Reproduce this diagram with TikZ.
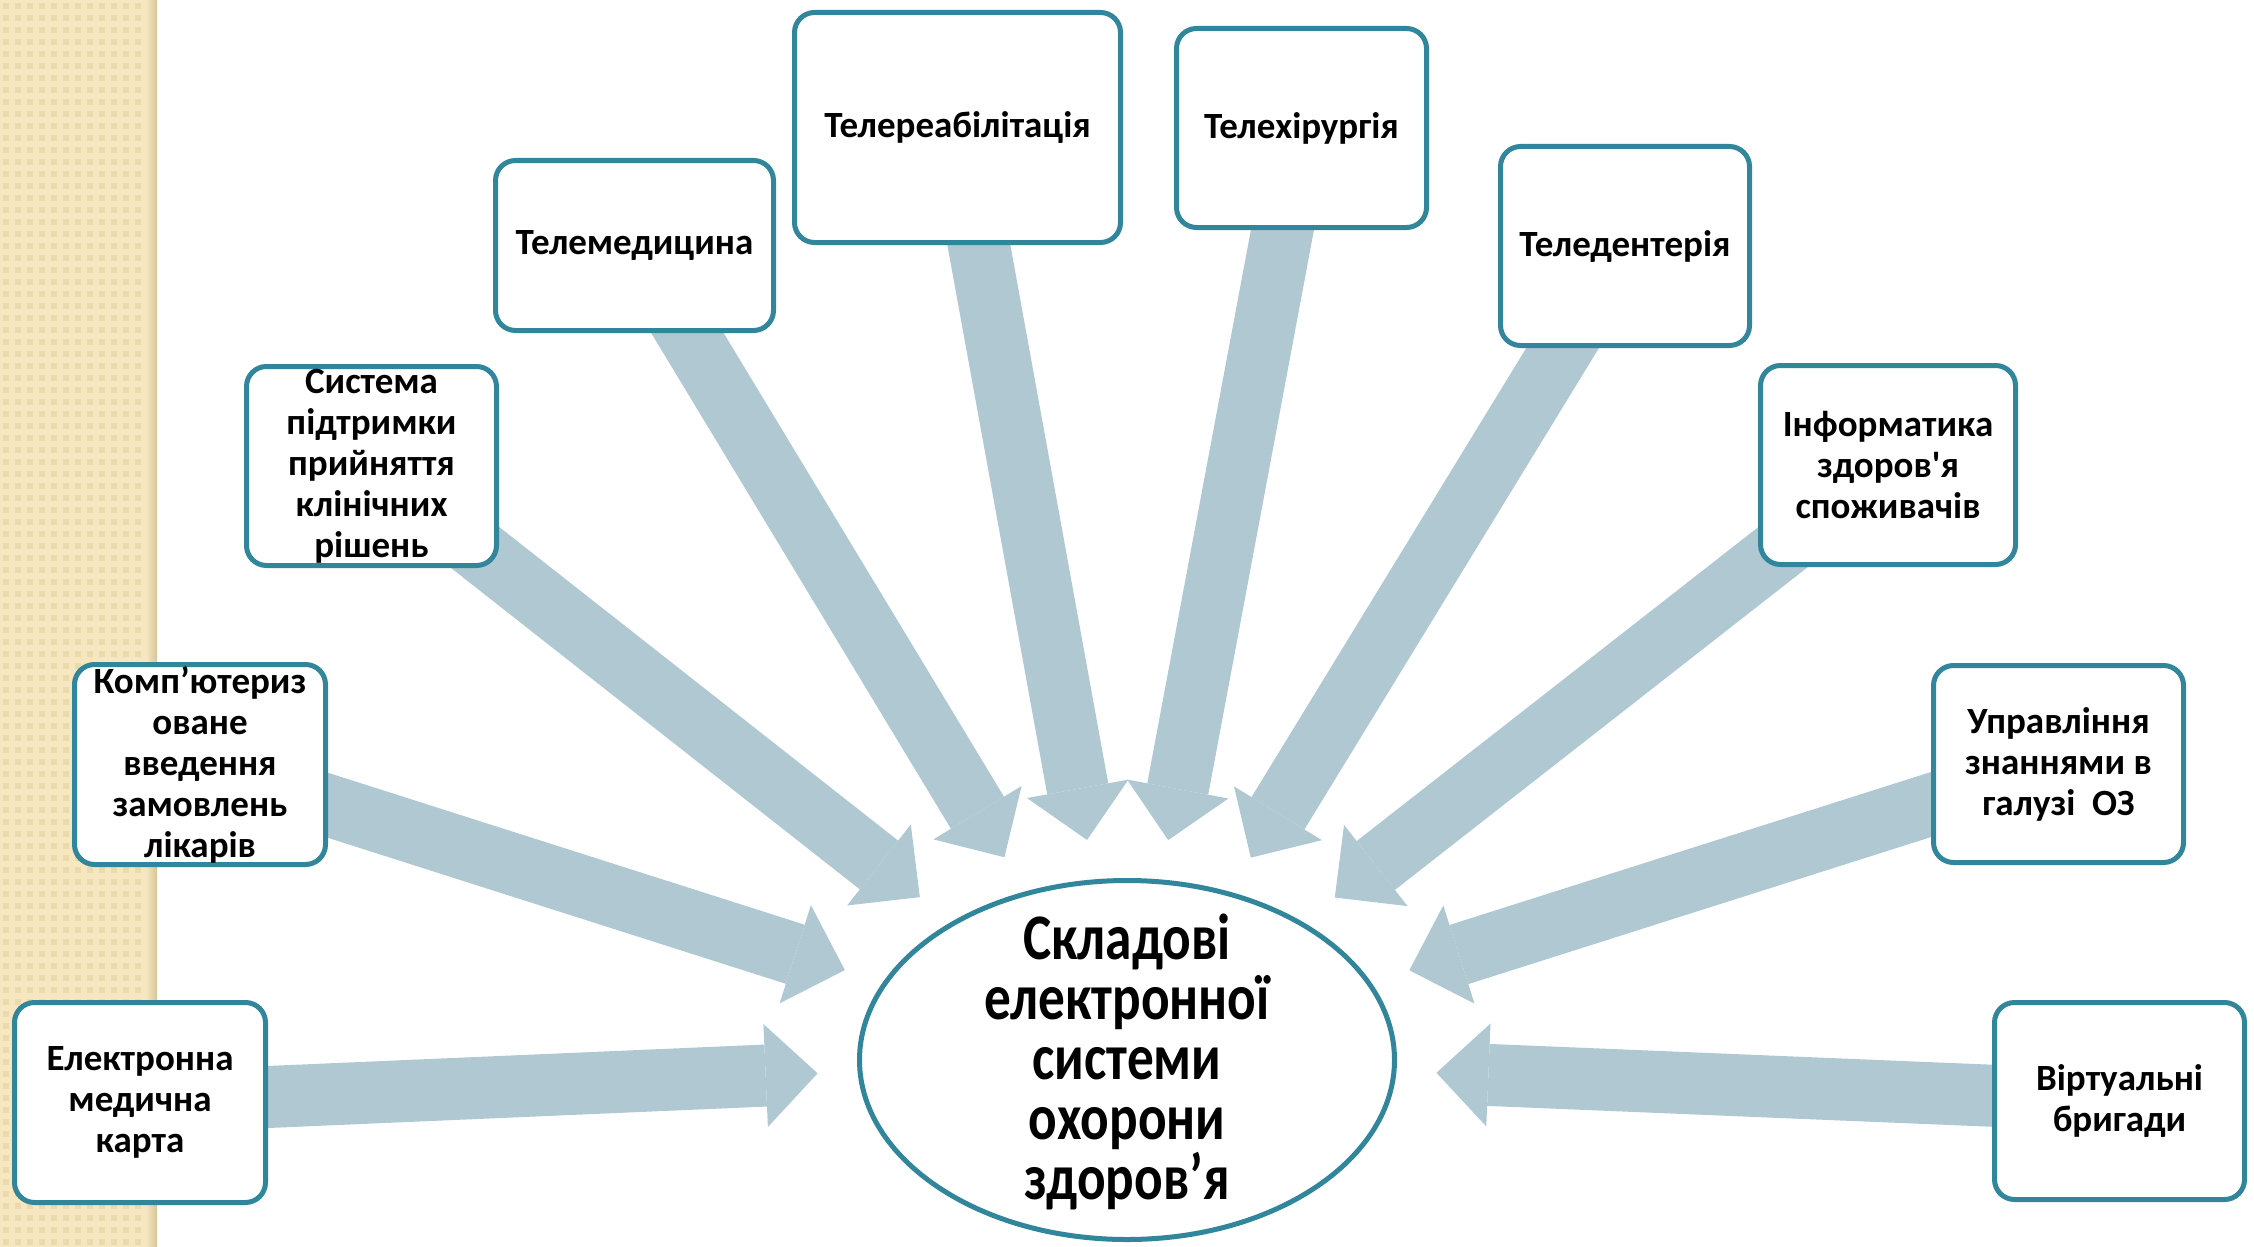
\documentclass[tikz,border=0pt]{standalone}
\usepackage{fontspec}
\newfontfamily\boxfont{Carlito}
\newfontfamily\ellfont{Carlito}[FakeStretch=0.82]
\usetikzlibrary{arrows.meta,shapes.geometric,backgrounds}
\definecolor{boxline}{RGB}{49,134,155}
\definecolor{arrowfill}{RGB}{175,200,210}
\definecolor{stripeA}{RGB}{246,231,193}
\definecolor{stripeB}{RGB}{235,218,172}
\definecolor{stripeC}{RGB}{214,196,150}
\begin{document}
\begin{tikzpicture}[x=0.5pt,y=-0.5pt,
  card/.style={draw=boxline,line width=2.5pt,rounded corners=10pt,fill=white,align=center,inner sep=0pt,
    font=\boxfont\bfseries\fontsize{18.5}{20.5}\selectfont},
  sz/.style 2 args={minimum width=#1*0.5pt-2.5pt,minimum height=#2*0.5pt-2.5pt},
  hub/.style={ellipse,draw=boxline,line width=2.5pt,fill=white,inner sep=0pt},
  hubtext/.style={align=center,inner sep=0pt,font=\ellfont\bfseries\fontsize{32.5}{30}\selectfont},
  blk/.style={draw=arrowfill,line width=31pt,
    -{Triangle[width=51.5pt,length=26pt,line width=0pt]},shorten >=20pt}]
\useasboundingbox (0,0) rectangle (2254,1247);

\node[card,sz={256}{205}] (emr) at (140,1102.5) {Електронна\\медична\\карта};
\node[card,sz={256}{205}] (cpoe) at (200,764.5) {Комп’ютериз\\оване\\введення\\замовлень\\лікарів};
\node[card,sz={255}{204}] (cdss) at (371.5,466) {Система\\підтримки\\прийняття\\клінічних\\рішень};
\node[card,sz={283}{175}] (tmed) at (634.5,245.5) {Телемедицина};
\node[card,sz={331}{235}] (treh) at (957.5,127.5) {Телереабілітація};
\node[card,sz={255}{204}] (tsur) at (1301.5,128) {Телехірургія};
\node[card,sz={254}{204}] (tden) at (1625,246) {Теледентерія};
\node[card,sz={260}{204}] (chi) at (1888,465) {Інформатика\\здоров'я\\споживачів};
\node[card,sz={255}{202}] (km) at (2058.5,764) {Управління\\знаннями в\\галузі\ \ ОЗ};
\node[card,sz={255}{202}] (vt) at (2119.5,1101) {Віртуальні\\бригади};
\node[hub,minimum width=267.5pt,minimum height=179.5pt] (core) at (1127,1060) {};
\node[hubtext] (coretext) at ([yshift=-1pt]core.center) {Складові\\електронної\\системи\\охорони\\здоров’я};

\begin{scope}[on background layer]
  \fill[white] (0,0) rectangle (2254,1247);
  \fill[stripeA] (0,0) rectangle (157,1247);
  \foreach \i in {0,...,12}{
    \foreach \j in {0,...,103}{
      \fill[stripeB] (\i*12+3,\j*12+3) rectangle ++(6,6);
    }
  }
  \shade[left color=stripeA,right color=stripeC] (146,0) rectangle (157,1247);
  \foreach \n in {emr,cpoe,cdss,tmed,treh,tsur,tden,chi,km,vt}
    \draw[blk] (\n.center) -- (core);
\end{scope}
\end{tikzpicture}
\end{document}
